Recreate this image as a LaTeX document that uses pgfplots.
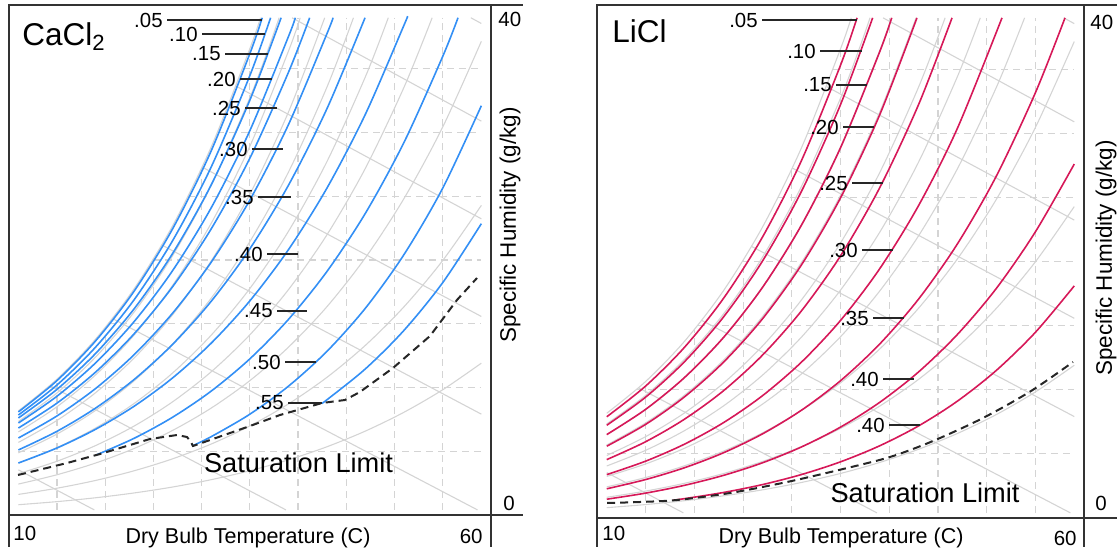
\documentclass[border=0pt]{standalone}
\usepackage{fontspec}
\setmainfont{Liberation Sans}
\usepackage{pgfplots}
\pgfplotsset{compat=1.18}
\definecolor{cblue}{RGB}{51,143,245}
\definecolor{cred}{RGB}{214,24,88}
\definecolor{lgray}{RGB}{212,212,212}
\pgfplotsset{
 gridl/.style={draw=lgray, line width=0.6pt, dash pattern=on 3.5pt off 2.5pt},
 rhl/.style={draw=lgray, line width=0.55pt, smooth},
 hl/.style={draw=lgray, line width=0.55pt},
 bl/.style={draw=cblue, line width=0.8pt, smooth},
 rl/.style={draw=cred, line width=0.8pt, smooth},
 satl/.style={draw=black!85, line width=1pt, dash pattern=on 4pt off 2.5pt},
 panel/.style={anchor=south west, scale only axis, xmin=10, xmax=60, ymin=0, ymax=40,
   enlargelimits=false, xtick=\empty, ytick=\empty, axis line style={draw=black!80, line width=1pt}},
}
\newcommand{\fs}[1]{\fontsize{#1}{#1}\selectfont}
\newcommand{\bg}{%
 \addplot[gridl] coordinates {(15,0.4)(15,10.652)};
 \addplot[gridl] coordinates {(20,0.4)(20,14.698)};
 \addplot[gridl] coordinates {(25,0.4)(25,20.081)};
 \addplot[gridl] coordinates {(30,0.4)(30,27.205)};
 \addplot[gridl] coordinates {(35,0.4)(35,36.58)};
 \addplot[gridl] coordinates {(40,0.4)(40,39)};
 \addplot[gridl] coordinates {(45,0.4)(45,39)};
 \addplot[gridl] coordinates {(50,0.4)(50,39)};
 \addplot[gridl] coordinates {(55,0.4)(55,39)};
 \addplot[gridl] coordinates {(11,5)(59,5)};
 \addplot[gridl] coordinates {(14.04,10)(59,10)};
 \addplot[gridl] coordinates {(20.32,15)(59,15)};
 \addplot[gridl] coordinates {(24.93,20)(59,20)};
 \addplot[gridl] coordinates {(28.59,25)(59,25)};
 \addplot[gridl] coordinates {(31.63,30)(59,30)};
 \addplot[gridl] coordinates {(34.24,35)(59,35)};
 \addplot[rhl] coordinates {(11,8.166)(15,10.652)(19,13.792)(23,17.742)(27,22.696)(31,28.881)(35,36.580)(36.1,39)};
 \addplot[rhl] coordinates {(11,7.340)(15,9.570)(19,12.385)(23,15.922)(27,20.352)(31,25.873)(35,32.730)(37,36.75)(38.03,39)};
 \addplot[rhl] coordinates {(11,6.516)(15,8.492)(19,10.985)(23,14.113)(27,18.025)(31,22.892)(35,28.924)(39,36.382)(40.22,39)};
 \addplot[rhl] coordinates {(11,5.694)(15,7.418)(19,9.591)(23,12.314)(27,15.715)(31,19.939)(35,25.162)(39,31.604)(42.76,39)};
 \addplot[rhl] coordinates {(11,4.874)(15,6.348)(19,8.203)(23,10.525)(27,13.422)(31,17.012)(35,21.444)(39,26.893)(43,33.576)(45.74,39)};
 \addplot[rhl] coordinates {(11,4.056)(15,5.281)(19,6.821)(23,8.746)(27,11.145)(31,14.113)(35,17.768)(39,22.251)(43,27.730)(47,34.413)(49.35,39)};
 \addplot[rhl] coordinates {(11,3.241)(15,4.218)(19,5.445)(23,6.977)(27,8.884)(31,11.239)(35,14.133)(39,17.675)(43,21.988)(47,27.229)(51,33.580)(53.9,39)};
 \addplot[rhl] coordinates {(11,2.427)(15,3.158)(19,4.074)(23,5.218)(27,6.639)(31,8.391)(35,10.540)(39,13.162)(43,16.347)(47,20.200)(51,24.849)(55,30.439)(59,37.151)};
 \addplot[rhl] coordinates {(11,1.616)(15,2.101)(19,2.710)(23,3.469)(27,4.410)(31,5.569)(35,6.987)(39,8.713)(43,10.803)(47,13.323)(51,16.349)(55,19.968)(59,24.284)};
 \addplot[rhl] coordinates {(11,0.807)(15,1.049)(19,1.352)(23,1.730)(27,2.197)(31,2.772)(35,3.474)(39,4.326)(43,5.355)(47,6.591)(51,8.068)(55,9.826)(59,11.909)};
 \addplot[hl] coordinates {(11,3.543)(18.87,0.4)};
 \addplot[hl] coordinates {(14.26,10.15)(38.74,0.4)};
 \addplot[hl] coordinates {(20.75,15.41)(58.6,0.4)};
 \addplot[hl] coordinates {(25.86,21.18)(59,7.91)};
 \addplot[hl] coordinates {(30.05,27.29)(59,15.57)};
 \addplot[hl] coordinates {(33.57,33.64)(59,23.23)};
 \addplot[hl] coordinates {(39.37,39)(59,30.89)};
 \addplot[hl] coordinates {(57.91,39)(59,38.55)};
}
\begin{document}
\begin{tikzpicture}
\useasboundingbox (0pt,0pt) rectangle (558.5pt,276.5pt);
% ---------------- CaCl2 ----------------
\begin{axis}[panel, at={(4.375pt,19pt)}, width=241.125pt, height=255pt]
\bg
\addplot[bl] coordinates {(11,8.083)(15,10.543)(19,13.651)(23,17.559)(27,22.460)(31,28.578)(35,36.193)(36.28,39)};
\addplot[bl] coordinates {(11,7.840)(15,10.197)(19,13.165)(23,16.883)(27,21.531)(31,27.310)(35,34.469)(37.15,39)};
\addplot[bl] coordinates {(11,7.610)(15,9.855)(19,12.666)(23,16.171)(27,20.525)(31,25.909)(35,32.539)(38.24,39)};
\addplot[bl] coordinates {(11,7.220)(15,9.316)(19,11.928)(23,15.170)(27,19.179)(31,24.108)(35,30.149)(39,37.525)(39.71,39)};
\addplot[bl] coordinates {(11,6.821)(15,8.776)(19,11.206)(23,14.213)(27,17.916)(31,22.453)(35,27.987)(39,34.721)(41.2,39)};
\addplot[bl] coordinates {(11,6.040)(15,7.770)(19,9.919)(23,12.574)(27,15.842)(31,19.839)(35,24.707)(39,30.618)(43,37.766)(43.62,39)};
\addplot[bl] coordinates {(11,5.100)(15,6.564)(19,8.383)(23,10.628)(27,13.392)(31,16.771)(35,20.883)(39,25.862)(43,31.882)(46.94,39)};
\addplot[bl] coordinates {(11,4.080)(15,5.257)(19,6.723)(23,8.532)(27,10.759)(31,13.484)(35,16.797)(39,20.812)(43,25.651)(47,31.470)(51,38.455)(51.29,39)};
\addplot[bl] coordinates {(19,4.685)(23,6.016)(27,7.674)(31,9.724)(35,12.249)(39,15.343)(43,19.110)(47,23.695)(51,29.255)(55,35.978)(56.58,39)};
\addplot[bl] coordinates {(29,5.41)(31,6.148)(35,7.907)(39,10.104)(43,12.843)(47,16.242)(51,20.452)(55,25.644)(59,32.1)};
\addplot[bl] coordinates {(42.5,8.78)(43,9.044)(47,11.478)(51,14.500)(55,18.231)(59,22.85)};
\addplot[satl] coordinates {(10.96,3.137)(16.04,4.078)(19.46,4.784)(24.645,5.961)(27.445,6.275)(28.48,6.118)(28.895,5.725)(29.10,5.412)(32.94,6.431)(35.01,6.980)(38.12,7.843)(42.48,8.784)(44.86,9.020)(46.41,9.647)(49.84,11.529)(53.675,14.039)(56.47,16.863)(58.55,18.588)};
\end{axis}
% ---------------- LiCl ----------------
\begin{axis}[panel, at={(298.5pt,17.5pt)}, width=243.5pt, height=256.5pt]
\bg
\addplot[rl] coordinates {(11,7.893)(15,10.295)(19,13.327)(23,17.140)(27,21.921)(31,27.885)(35,35.305)(36.7,39)};
\addplot[rl] coordinates {(11,7.232)(15,9.430)(19,12.203)(23,15.686)(27,20.049)(31,25.484)(35,32.232)(38.3,39)};
\addplot[rl] coordinates {(11,6.503)(15,8.476)(19,10.964)(23,14.086)(27,17.990)(31,22.848)(35,28.868)(39,36.310)(40.26,39)};
\addplot[rl] coordinates {(11,5.598)(15,7.304)(19,9.457)(23,12.159)(27,15.542)(31,19.748)(35,24.960)(39,31.396)(42.85,39)};
\addplot[rl] coordinates {(11,4.554)(15,5.951)(19,7.715)(23,9.933)(27,12.709)(31,16.163)(35,20.439)(39,25.717)(43,32.210)(46.45,39)};
\addplot[rl] coordinates {(11,3.384)(15,4.435)(19,5.765)(23,7.442)(27,9.543)(31,12.162)(35,15.404)(39,19.410)(43,24.342)(47,30.384)(51.58,39)};
\addplot[rl] coordinates {(11,2.277)(15,3.001)(19,3.924)(23,5.092)(27,6.565)(31,8.409)(35,10.705)(39,13.548)(43,17.057)(47,21.371)(51,26.663)(55,33.144)(58.05,39)};
\addplot[rl] coordinates {(11,1.466)(15,1.941)(19,2.551)(23,3.327)(27,4.308)(31,5.544)(35,7.087)(39,9.005)(43,11.381)(47,14.311)(51,17.904)(55,22.305)(59,27.6)};
\addplot[rl] coordinates {(17.8,1.389)(19,1.511)(23,1.992)(27,2.608)(31,3.391)(35,4.380)(39,5.623)(43,7.175)(47,9.112)(51,11.512)(55,14.472)(59,18.1)};
\addplot[satl, smooth] coordinates {(11.03,1.170)(14.41,1.248)(18.21,1.404)(23.66,1.949)(29.51,2.807)(35.26,3.821)(40.08,4.756)(44.50,6.004)(49.63,7.797)(54.56,9.903)(58.87,12.164)};
\end{axis}
\begin{scope}[x=0.5pt,y=0.5pt]
% ---------------- frame extensions ----------------
\begin{scope}[draw=black!80, line width=1pt]
\draw (491,548) -- (523,548); \draw (491,38) -- (523,38);
\draw (8.75,38) -- (8.75,6); \draw (491,38) -- (491,6);
\draw (1084,548) -- (1117,548); \draw (1084,35) -- (1117,35);
\draw (597,35) -- (597,6); \draw (1084,35) -- (1084,6);
\end{scope}
% ---------------- leader lines and labels ----------------
\begin{scope}[every node/.style={inner sep=0pt, anchor=east, font=\fs{10.2pt}}]
\draw[black!85, line width=0.6pt] (167,533)--(262,533) (202,519)--(265,519) (225,499)--(268,499) (240,474)--(272,474) (245,445)--(277,445) (252,404)--(283,404) (258,356)--(291,356) (267,299)--(298,299) (277,242)--(307,242) (285,191)--(316,191) (288,150)--(322,150);
\node at (163,533) {.05}; \node at (198,519) {.10}; \node at (221,499) {.15};
\node at (236,474) {.20}; \node at (241,445) {.25}; \node at (248,404) {.30};
\node at (254,356) {.35}; \node at (263,299) {.40}; \node at (273,242) {.45};
\node at (281,191) {.50}; \node at (284,150) {.55};
\draw[black!85, line width=0.6pt] (762,533)--(857,533) (820,502)--(862,502) (836,468)--(867,468) (843,426)--(874,426) (852,370)--(883,370) (862,303)--(893,303) (873,235)--(904,235) (883,174)--(914,174) (889,128)--(920,128);
\node at (758,533) {.05}; \node at (816,502) {.10}; \node at (832,468) {.15};
\node at (839,426) {.20}; \node at (848,370) {.25}; \node at (858,303) {.30};
\node at (869,235) {.35}; \node at (879,174) {.40}; \node at (885,128) {.40};
\end{scope}
\begin{scope}[every node/.style={inner sep=0pt}]
\node[anchor=base west, font=\fs{15.75pt}] at (22,508) {CaCl\textsubscript{2}};
\node[anchor=base west, font=\fs{15.75pt}] at (612,510) {LiCl};
\node[anchor=base, font=\fs{13.6pt}] at (298.5,81) {Saturation Limit};
\node[anchor=base, font=\fs{13.6pt}] at (925,51) {Saturation Limit};
\node[anchor=base, font=\fs{10.75pt}] at (248,10) {Dry Bulb Temperature (C)};
\node[anchor=base, font=\fs{10.75pt}] at (841,10) {Dry Bulb Temperature (C)};
\node[rotate=90, anchor=center, font=\fs{11.2pt}] at (510,328) {Specific Humidity (g/kg)};
\node[rotate=90, anchor=center, font=\fs{11.2pt}] at (1106,295) {Specific Humidity (g/kg)};
\node[anchor=base west, font=\fs{10.25pt}] at (13,13) {10};
\node[anchor=base east, font=\fs{10.25pt}] at (483,10) {60};
\node[anchor=west, font=\fs{10.25pt}] at (498,534) {40};
\node[anchor=base west, font=\fs{10.25pt}] at (503,43) {0};
\node[anchor=base west, font=\fs{10.25pt}] at (602,13) {10};
\node[anchor=base east, font=\fs{10.25pt}] at (1077,8) {60};
\node[anchor=west, font=\fs{10.25pt}] at (1090,531) {40};
\node[anchor=base west, font=\fs{10.25pt}] at (1095,43) {0};
\end{scope}
\end{scope}
\end{tikzpicture}
\end{document}
